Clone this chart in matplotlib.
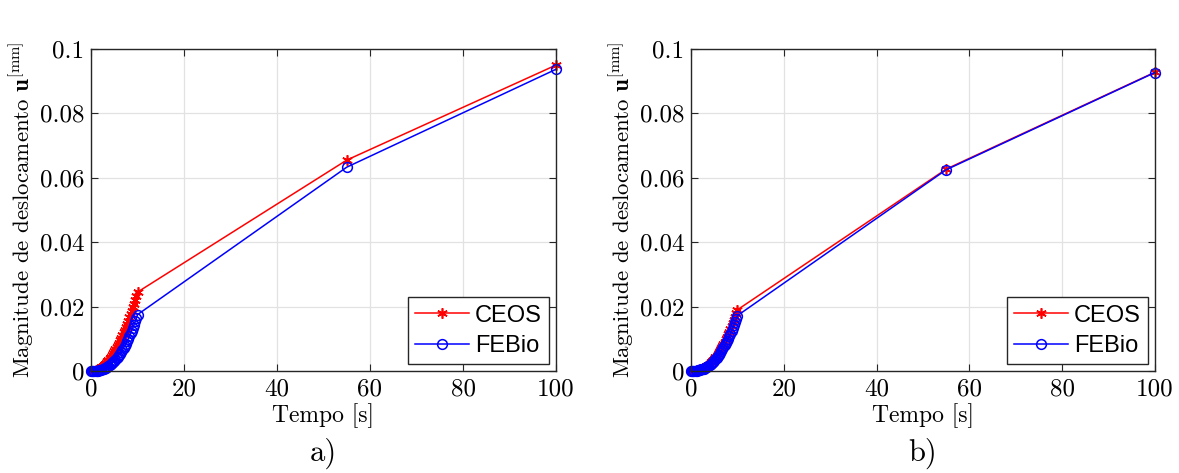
import matplotlib
matplotlib.use("Agg")
import matplotlib.pyplot as plt

plt.rcParams['font.family'] = 'serif'
plt.rcParams['font.serif'] = ['cmr10']
plt.rcParams['mathtext.fontset'] = 'cm'
plt.rcParams['axes.formatter.use_mathtext'] = True

t = [0, 0.25, 0.5, 0.75, 1, 1.25, 1.5, 1.75, 2, 2.25, 2.5, 2.75, 3, 3.25, 3.5, 3.75,
     4, 4.25, 4.5, 4.75, 5, 5.25, 5.5, 5.75, 6, 6.25, 6.5, 6.75, 7, 7.25, 7.5, 7.75,
     8, 8.25, 8.5, 8.75, 9, 9.25, 9.5, 9.75, 10, 55, 100]

ceos_a = [0, 0.000015, 0.000061, 0.000138, 0.000245, 0.000383, 0.000551, 0.000750,
          0.00098, 0.00124, 0.00153, 0.00185, 0.00221, 0.00259, 0.00300, 0.00345,
          0.00392, 0.00443, 0.00496, 0.00553, 0.00613, 0.00675, 0.00741, 0.00810,
          0.00882, 0.00957, 0.01035, 0.01116, 0.01201, 0.01288, 0.01378, 0.01472,
          0.01568, 0.01668, 0.01770, 0.01876, 0.01985, 0.02096, 0.02211, 0.02329,
          0.0245, 0.0655, 0.0950]
febio_a = [0, 0.000002, 0.00001, 0.000027, 0.000055, 0.000097, 0.000152, 0.000224,
           0.000313, 0.00042, 0.000547, 0.000694, 0.000863, 0.001054, 0.001268, 0.001507,
           0.001771, 0.002061, 0.002377, 0.002721, 0.003094, 0.003495, 0.003926, 0.004387,
           0.00488, 0.005404, 0.005961, 0.006551, 0.007175, 0.007833, 0.008525, 0.009253,
           0.010017, 0.010819, 0.011657, 0.012533, 0.013448, 0.014401, 0.015394, 0.016427,
           0.0175, 0.0633, 0.0937]
ceos_b = [0, 0.000004, 0.000019, 0.000049, 0.000095, 0.000159, 0.000242, 0.000345,
          0.000469, 0.000615, 0.000784, 0.000975, 0.001192, 0.001433, 0.001699, 0.001991,
          0.00231, 0.002655, 0.003028, 0.003429, 0.003858, 0.004316, 0.004804, 0.005321,
          0.005868, 0.006446, 0.007055, 0.007694, 0.008365, 0.009068, 0.009804, 0.010572,
          0.011373, 0.012206, 0.013074, 0.013975, 0.014911, 0.015881, 0.016885, 0.017925,
          0.0190, 0.0627, 0.0928]
febio_b = [0, 0.0000025, 0.000013, 0.000034, 0.000069, 0.000117, 0.000181, 0.000262,
           0.000361, 0.000479, 0.000618, 0.000776, 0.000956, 0.001159, 0.001385, 0.001634,
           0.001908, 0.002206, 0.002531, 0.002882, 0.003259, 0.003663, 0.004096, 0.004557,
           0.005048, 0.005567, 0.006117, 0.006697, 0.007308, 0.00795, 0.008623, 0.009329,
           0.010068, 0.010839, 0.011645, 0.012483, 0.013357, 0.014266, 0.015208, 0.016186,
           0.0172, 0.0625, 0.0927]

xticks = [0, 20, 40, 60, 80, 100]
yticks = [0, 0.02, 0.04, 0.06, 0.08, 0.1]
ytick_labels = ['0', '0.02', '0.04', '0.06', '0.08', '0.1']
panel_labels = ['a)', 'b)']

W, H = 1179, 473
fig = plt.figure(figsize=(W / 100, H / 100), dpi=100)

axes_px = [(91, 49, 556, 371), (691, 49, 1155, 371)]
data = [(ceos_a, febio_a), (ceos_b, febio_b)]
for (x0, y0, x1, y1), (c, f), lab in zip(axes_px, data, panel_labels):
    ax = fig.add_axes([x0 / W, 1 - y1 / H, (x1 - x0) / W, (y1 - y0) / H])
    ax.plot(t, c, color='red', marker=(6, 2, 0), markersize=7.5, markeredgewidth=1.2,
            linewidth=1.1, label='CEOS', clip_on=False)
    ax.plot(t, f, color='blue', marker='o', markerfacecolor='none', markersize=7,
            markeredgewidth=1.1, linewidth=1.1, label='FEBio', clip_on=False)
    ax.set_xlim(0, 100)
    ax.set_ylim(0, 0.1)
    ax.set_xticks(xticks)
    ax.set_xticklabels([str(v) for v in xticks])
    ax.set_yticks(yticks)
    ax.set_yticklabels(ytick_labels)
    ax.grid(True, color='#e2e2e2', linewidth=0.9)
    ax.set_axisbelow(True)
    ax.tick_params(direction='in', top=True, right=True, labelsize=18, length=5,
                   color='#262626', pad=5)
    for s in ax.spines.values():
        s.set_color('#262626')
        s.set_linewidth(1.0)
    ax.set_xlabel('Tempo [s]', fontsize=17, labelpad=2)
    ax.set_ylabel(r'Magnitude de deslocamento $\mathbf{u}^{[\mathrm{mm}]}$', fontsize=16.5, labelpad=2)
    leg = ax.legend(loc='lower right', prop={'family': 'Liberation Sans', 'size': 17},
                    fancybox=False, framealpha=1, edgecolor='#262626',
                    handlelength=2.3, borderpad=0.3, labelspacing=0.35, handletextpad=0.25,
                    borderaxespad=0.3)
    leg.get_frame().set_linewidth(1.0)
    ax.text(0.5, -0.255, lab, transform=ax.transAxes, ha='center', va='center', fontsize=22)

fig.savefig('out.png', dpi=100)
